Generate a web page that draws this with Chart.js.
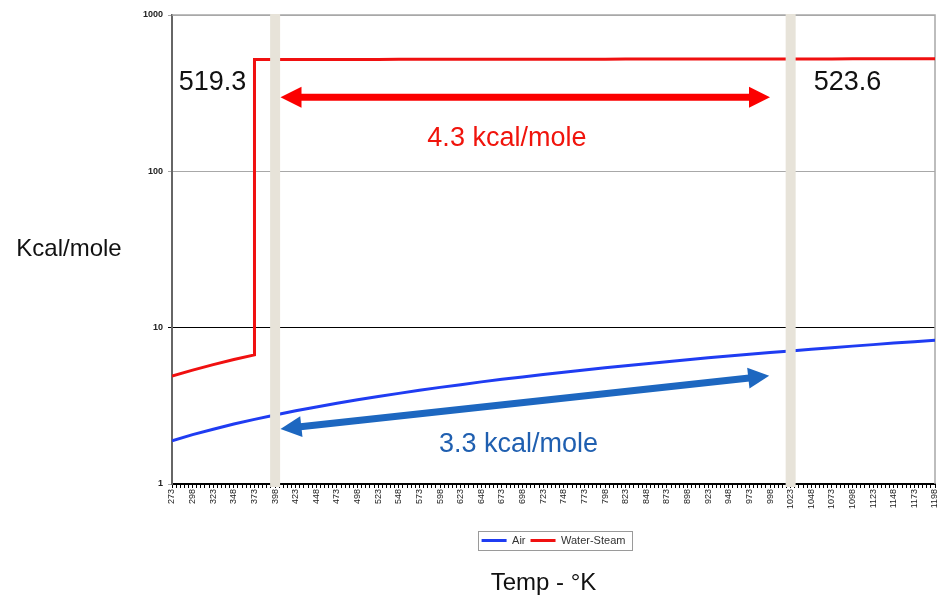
<!DOCTYPE html>
<html>
<head>
<meta charset="utf-8">
<script src="https://cdn.jsdelivr.net/npm/chart.js@4.4.0/dist/chart.umd.min.js"></script>
<style>
  html, body { margin: 0; padding: 0; background: #fff; }
  #wrap { width: 943px; height: 601px; position: relative; }
</style>
</head>
<body>
<div id="wrap"><canvas id="heatChart" width="943" height="601"></canvas></div>
<script>
// temperatures (K) with a label every 25 degrees
const temps = [273, 298, 323, 348, 373, 398, 423, 448, 473, 498, 523, 548, 573, 598, 623, 648, 673, 698, 723,
  748, 773, 798, 823, 848, 873, 898, 923, 948, 973, 998, 1023, 1048, 1073, 1098, 1123, 1148, 1173, 1198];

const airValues = [1.89, 2.07, 2.24, 2.42, 2.59, 2.76, 2.94, 3.11, 3.28, 3.46, 3.63, 3.80, 3.98, 4.15, 4.32,
  4.50, 4.67, 4.84, 5.02, 5.19, 5.36, 5.54, 5.71, 5.88, 6.06, 6.23, 6.41, 6.58, 6.75, 6.93, 7.10, 7.27, 7.45,
  7.62, 7.79, 7.97, 8.14, 8.31];

// water: liquid up to 373, then the jump to steam at the same temperature
const waterTemps = [273, 298, 323, 348, 373, 373, 398, 423, 448, 473, 498, 523, 548, 573, 598, 623, 648, 673,
  698, 723, 748, 773, 798, 823, 848, 873, 898, 923, 948, 973, 998, 1023, 1048, 1073, 1098, 1123, 1148, 1173, 1198];
const waterValues = [4.9, 5.35, 5.8, 6.25, 6.7, 519.13, 519.3, 519.47, 519.64, 519.82, 519.99, 520.16, 520.33,
  520.51, 520.68, 520.85, 521.02, 521.2, 521.37, 521.54, 521.71, 521.89, 522.06, 522.23, 522.4, 522.58, 522.75,
  522.92, 523.09, 523.26, 523.43, 523.6, 523.77, 523.94, 524.11, 524.29, 524.46, 524.63, 524.8];

const yTicks = [1, 10, 100, 1000];
const markerTemps = [398, 1023];
const steamLabels = ["519.3", "523.6"];
const deltaLabels = ["4.3 kcal/mole", "3.3 kcal/mole"];

// annotation placement (data coordinates)
const notes = {
  steamText: [{ x: 322, y: 372 }, { x: 1092, y: 372 }],
  redArrow: { x1: 404.5, y1: 298, x2: 998, y2: 298 },
  blueArrow: { x1: 404.5, y1: 2.25, x2: 997, y2: 4.92 },
  redText: { x: 679, y: 163 },
  blueText: { x: 693, y: 1.78 }
};

function drawArrow(ctx, x1, y1, x2, y2, color) {
  const headLen = 21, headHalf = 10.5;
  const len = Math.hypot(x2 - x1, y2 - y1);
  const ux = (x2 - x1) / len, uy = (y2 - y1) / len;
  const px = -uy, py = ux;
  ctx.save();
  ctx.strokeStyle = color;
  ctx.fillStyle = color;
  ctx.lineWidth = 7;
  ctx.beginPath();
  ctx.moveTo(x1 + ux * (headLen - 1), y1 + uy * (headLen - 1));
  ctx.lineTo(x2 - ux * (headLen - 1), y2 - uy * (headLen - 1));
  ctx.stroke();
  [[x1, y1, 1], [x2, y2, -1]].forEach(([tx, ty, d]) => {
    const bx = tx + d * ux * headLen, by = ty + d * uy * headLen;
    ctx.beginPath();
    ctx.moveTo(tx, ty);
    ctx.lineTo(bx + px * headHalf, by + py * headHalf);
    ctx.lineTo(bx - px * headHalf, by - py * headHalf);
    ctx.closePath();
    ctx.fill();
  });
  ctx.restore();
}

const decorPlugin = {
  id: "decor",
  beforeDatasetsDraw(chart) {
    const { ctx, chartArea: a } = chart;
    ctx.save();
    ctx.strokeStyle = "#a8a8a8";
    ctx.lineWidth = 1.5;
    ctx.beginPath();
    ctx.moveTo(a.left, a.top);
    ctx.lineTo(a.right, a.top);
    ctx.lineTo(a.right, a.bottom);
    ctx.stroke();
    ctx.restore();
  },
  afterDatasetsDraw(chart) {
    const { ctx, chartArea: a, scales: { x, y } } = chart;
    ctx.save();
    // beige marker bars
    ctx.fillStyle = "#e7e3d9";
    markerTemps.forEach(t => {
      const px = x.getPixelForValue(t);
      ctx.fillRect(px - 5, a.top - 1, 10, a.bottom - a.top + 4);
    });

    const ra = notes.redArrow, ba = notes.blueArrow;
    drawArrow(ctx, x.getPixelForValue(ra.x1), y.getPixelForValue(ra.y1),
      x.getPixelForValue(ra.x2), y.getPixelForValue(ra.y2), "#fb0000");
    drawArrow(ctx, x.getPixelForValue(ba.x1), y.getPixelForValue(ba.y1),
      x.getPixelForValue(ba.x2), y.getPixelForValue(ba.y2), "#1d67c0");

    ctx.textAlign = "center";
    ctx.textBaseline = "middle";
    ctx.font = "27px Arial, 'Liberation Sans', sans-serif";
    ctx.fillStyle = "#111";
    steamLabels.forEach((s, i) => {
      const p = notes.steamText[i];
      ctx.fillText(s, x.getPixelForValue(p.x), y.getPixelForValue(p.y));
    });
    ctx.fillStyle = "#f0140c";
    ctx.fillText(deltaLabels[0], x.getPixelForValue(notes.redText.x), y.getPixelForValue(notes.redText.y));
    ctx.fillStyle = "#1f5fb0";
    ctx.fillText(deltaLabels[1], x.getPixelForValue(notes.blueText.x), y.getPixelForValue(notes.blueText.y));
    ctx.restore();
  },
  afterDraw(chart) {
    const { ctx, chartArea: a, legend } = chart;
    ctx.save();
    // legend frame
    if (legend && legend.legendHitBoxes.length) {
      const boxes = legend.legendHitBoxes;
      const l = Math.min(...boxes.map(b => b.left)) - 4;
      const r = Math.max(...boxes.map(b => b.left + b.width)) + 6;
      const t = Math.min(...boxes.map(b => b.top)) - 4;
      const btm = Math.max(...boxes.map(b => b.top + b.height)) + 4;
      ctx.strokeStyle = "#9a9a9a";
      ctx.lineWidth = 1;
      ctx.strokeRect(Math.round(l) + 0.5, Math.round(t) + 0.5, Math.round(r - l), Math.round(btm - t));
    }
    ctx.fillStyle = "#111";
    ctx.font = "24px Arial, 'Liberation Sans', sans-serif";
    ctx.textAlign = "center";
    ctx.textBaseline = "middle";
    ctx.fillText("Kcal/mole", 69, (a.top + a.bottom) / 2);
    ctx.fillText("Temp - °K", (a.left + a.right) / 2 - 10, 583);
    ctx.restore();
  }
};

const ctx = document.getElementById("heatChart").getContext("2d");

new Chart(ctx, {
  type: "line",
  data: {
    datasets: [
      {
        label: "Air",
        data: temps.map((t, i) => ({ x: t, y: airValues[i] })),
        borderColor: "#1f3cf2",
        backgroundColor: "#1f3cf2",
        borderWidth: 3
      },
      {
        label: "Water-Steam",
        data: waterTemps.map((t, i) => ({ x: t, y: waterValues[i] })),
        borderColor: "#f01010",
        backgroundColor: "#f01010",
        borderWidth: 3
      }
    ]
  },
  options: {
    responsive: false,
    animation: false,
    layout: { padding: { left: 0, right: 8, top: 15, bottom: 45 } },
    elements: { point: { radius: 0 }, line: { tension: 0 } },
    plugins: {
      tooltip: { enabled: false },
      legend: {
        position: "bottom",
        fullSize: false,
        labels: {
          usePointStyle: true,
          pointStyle: "line",
          pointStyleWidth: 25,
          color: "#333",
          font: { family: "Arial, 'Liberation Sans', sans-serif", size: 11 },
          padding: 5
        }
      }
    },
    scales: {
      x: {
        type: "linear",
        min: temps[0],
        max: temps[temps.length - 1],
        afterBuildTicks(axis) {
          const ticks = [];
          for (let v = temps[0]; v <= temps[temps.length - 1]; v += 5) ticks.push({ value: v });
          axis.ticks = ticks;
        },
        afterFit(scale) {
          scale.height = 46;
          scale.paddingRight = 0;
        },
        ticks: {
          autoSkip: false,
          minRotation: 90,
          maxRotation: 90,
          padding: 1,
          color: "#222",
          font: { family: "Arial, 'Liberation Sans', sans-serif", size: 9 },
          callback: v => temps.includes(v) ? String(v) : ""
        },
        grid: { drawOnChartArea: false, drawTicks: true, tickLength: 4, color: "#000" },
        border: { color: "#000", width: 2 }
      },
      y: {
        type: "logarithmic",
        min: 1,
        max: 1000,
        afterBuildTicks(axis) { axis.ticks = yTicks.map(v => ({ value: v })); },
        afterFit(scale) { scale.width = 172; },
        ticks: {
          padding: 5,
          color: "#222",
          font: { family: "Arial, 'Liberation Sans', sans-serif", size: 9, weight: "bold" },
          callback: v => String(v)
        },
        grid: {
          color: c => c.tick && c.tick.value === 10 ? "#000" : "#a8a8a8",
          lineWidth: 1,
          tickLength: 4
        },
        border: { color: "#666", width: 2 }
      }
    }
  },
  plugins: [decorPlugin]
});
</script>
</body>
</html>
